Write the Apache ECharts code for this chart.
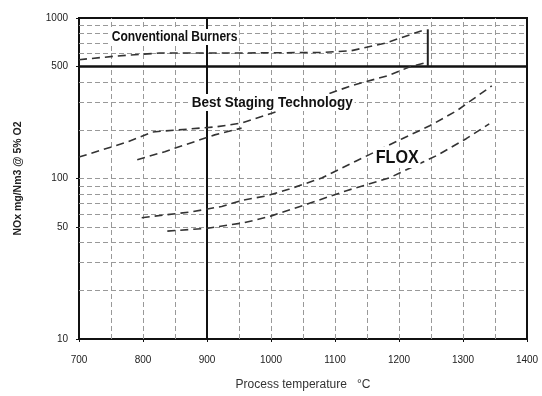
<!DOCTYPE html>
<html>
<head>
<meta charset="utf-8">
<script src="https://cdn.jsdelivr.net/npm/echarts@6/dist/echarts.min.js"></script>
<style>
  html, body { margin: 0; padding: 0; background: #fff; }
  #chart { width: 542px; height: 396px; }
</style>
</head>
<body>
<div id="chart"></div>
<script>
// process temperature ticks (°C) and labelled NOx values
const xTicks = [700, 800, 900, 1000, 1100, 1200, 1300, 1400];
const yTicks = [10, 50, 100, 500, 1000];

// graph paper lines
const xGrid = [750, 800, 850, 950, 1000, 1050, 1100, 1150, 1200, 1250, 1300, 1350];
const yGrid = [20, 30, 40, 50, 60, 70, 80, 90, 100, 200, 300, 400, 600, 700, 800, 900];
const xHeavy = [900];
const yHeavy = [500];

// band outlines, [°C, mg/Nm3]
const stagingUpper = [[700, 550], [760, 580], [826, 605], [950, 605], [1080, 610], [1125, 625], [1180, 700], [1240, 845]];
const stagingEdge = [[1245, 850], [1245, 500]];
const stagingLower = [[700, 136], [774, 168], [815, 195], [915, 210], [955, 222], [1029, 278], [1127, 380], [1185, 440], [1216, 495], [1245, 530]];
const stagingInner = [[791, 131], [834, 147], [912, 187], [954, 206]];
const floxUpper = [[798, 57], [876, 62], [923, 67], [954, 73], [993, 78], [1029, 86], [1080, 101], [1134, 129], [1205, 177], [1248, 213], [1290, 264], [1345, 378]];
const floxLower = [[838, 47], [901, 49], [958, 53], [998, 58], [1060, 70], [1118, 84], [1185, 101], [1259, 139], [1305, 177], [1341, 219]];

const chart = echarts.init(document.getElementById("chart"));

const dashed = { color: "#333", width: 1.6, type: [8, 5] };
const band = (data, style) => ({
  type: "line",
  data,
  showSymbol: false,
  silent: true,
  lineStyle: style || dashed,
  z: 5,
});

const gridStyle = { color: "#999", width: 1, type: [5, 3] };
const heavyStyle = { color: "#111", width: 2, type: "solid" };

chart.setOption({
  backgroundColor: "#fff",
  animation: false,
  grid: { left: 79, right: 15, top: 18, bottom: 57, show: true, borderColor: "#111", borderWidth: 2 },
  xAxis: {
    type: "value",
    min: 700,
    max: 1400,
    interval: 100,
    name: "Process temperature   °C",
    nameLocation: "middle",
    nameGap: 40,
    nameTextStyle: { color: "#333", fontSize: 12, fontFamily: "Liberation Sans" },
    axisLine: { lineStyle: { color: "#111", width: 2 } },
    axisTick: { length: 3, lineStyle: { color: "#111" } },
    axisLabel: { color: "#222", fontSize: 10, margin: 16, fontFamily: "Liberation Sans", formatter: (v) => xTicks.includes(v) ? String(v) : "" },
    splitLine: { show: false },
  },
  yAxis: {
    type: "log",
    logBase: 10,
    min: 10,
    max: 1000,
    name: "NOx mg/Nm3 @ 5% O2",
    nameLocation: "middle",
    nameGap: 55,
    nameTextStyle: { color: "#222", fontSize: 10.5, fontWeight: "bold", fontFamily: "Liberation Sans" },
    axisLine: { lineStyle: { color: "#111", width: 2 } },
    axisTick: { customValues: yTicks, length: 3, lineStyle: { color: "#111" } },
    axisLabel: { customValues: yTicks, color: "#222", fontSize: 10, margin: 11, fontFamily: "Liberation Sans", formatter: (v) => String(v) },
    splitLine: { show: false },
  },
  graphic: [
    { type: "text", left: 110, top: 29, z: 20, scaleX: 0.86,
      style: { text: "Conventional Burners", font: "bold 14px 'Liberation Sans'", fill: "#111", backgroundColor: "#fff", padding: [1, 2] } },
    { type: "text", left: 190, top: 94, z: 20, scaleX: 0.9,
      style: { text: "Best Staging Technology", font: "bold 15px 'Liberation Sans'", fill: "#111", backgroundColor: "#fff", padding: [1, 2] } },
    { type: "text", left: 374, top: 147, z: 20, scaleX: 0.85,
      style: { text: "FLOX", font: "bold 19px 'Liberation Sans'", fill: "#111", backgroundColor: "#fff", padding: [1, 2] } },
  ],
  series: [
    {
      type: "line",
      data: [],
      silent: true,
      markLine: {
        silent: true,
        symbol: "none",
        label: { show: false },
        data: [
          ...xGrid.map((v) => ({ xAxis: v, lineStyle: gridStyle })),
          ...yGrid.map((v) => ({ yAxis: v, lineStyle: gridStyle })),
          ...xHeavy.map((v) => ({ xAxis: v, lineStyle: heavyStyle })),
          ...yHeavy.map((v) => ({ yAxis: v, lineStyle: { color: "#111", width: 2.5, type: "solid" } })),
        ],
      },
    },
    band(stagingUpper),
    band(stagingEdge, { color: "#222", width: 2, type: "solid" }),
    band(stagingLower),
    band(stagingInner),
    band(floxUpper),
    band(floxLower),
  ],
});
</script>
</body>
</html>
